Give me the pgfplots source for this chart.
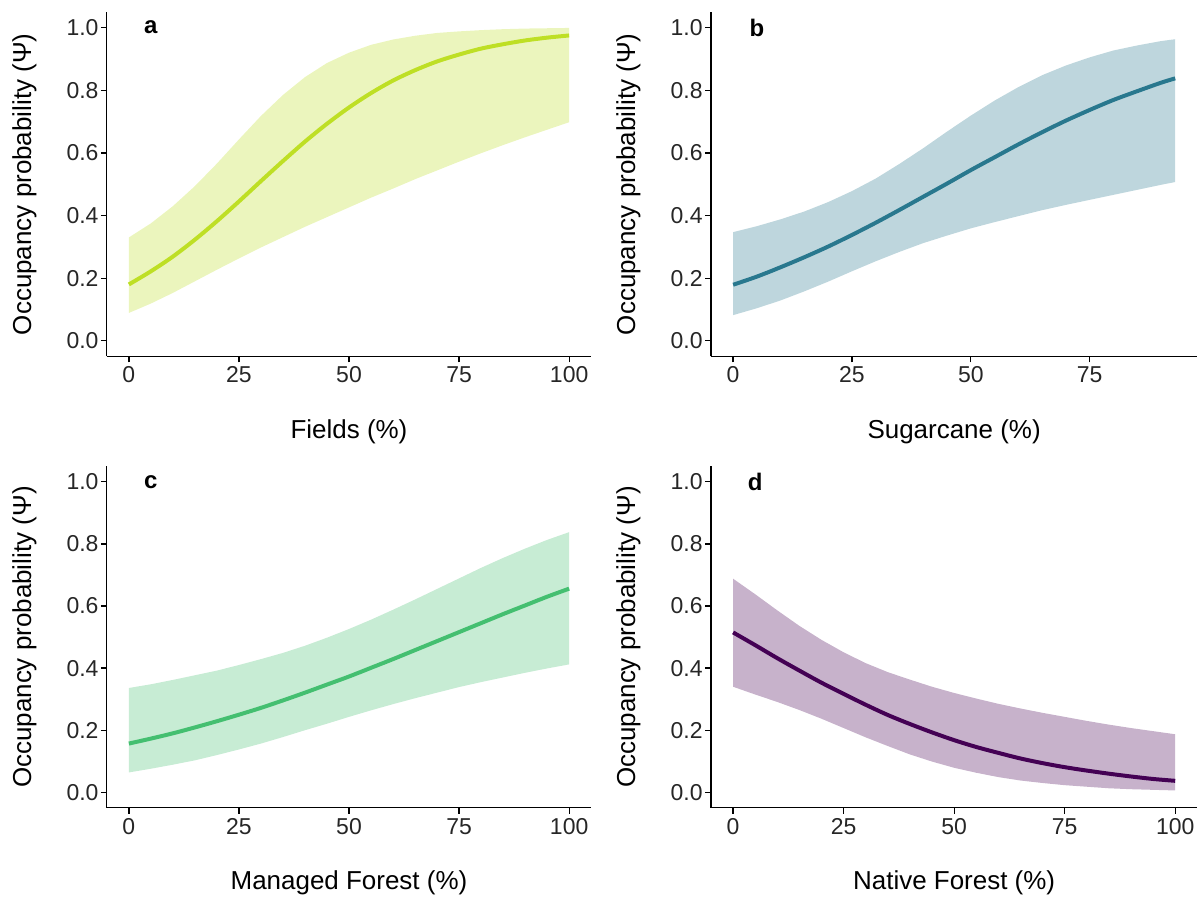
\documentclass[border=0pt]{standalone}
\usepackage{fontspec}
\setmainfont{Liberation Sans}
\usepackage{pgfplots}
\pgfplotsset{compat=1.18}
\usepackage{pgfplotstable}
\usepgfplotslibrary{fillbetween}

\definecolor{colA}{RGB}{190,223,37}
\definecolor{colB}{RGB}{41,120,142}
\definecolor{colC}{RGB}{68,191,112}
\definecolor{colD}{RGB}{68,1,84}
\definecolor{tickgray}{HTML}{262626}

% x, lower, mean, upper
\pgfplotstableread{
x lo mean hi
0 0.089 0.180 0.330
5 0.119 0.222 0.375
10 0.153 0.269 0.430
15 0.190 0.323 0.494
20 0.227 0.382 0.566
25 0.263 0.445 0.643
30 0.298 0.510 0.718
35 0.331 0.574 0.785
40 0.364 0.636 0.842
45 0.395 0.693 0.887
50 0.426 0.745 0.920
55 0.457 0.791 0.945
60 0.486 0.831 0.962
65 0.516 0.864 0.974
70 0.544 0.892 0.983
75 0.572 0.914 0.988
80 0.599 0.933 0.992
85 0.625 0.947 0.995
90 0.650 0.959 0.997
95 0.674 0.968 0.998
100 0.698 0.975 0.999
}\tA

\pgfplotstableread{
x lo mean hi
0 0.082 0.179 0.347
5 0.104 0.205 0.366
10 0.129 0.235 0.388
15 0.158 0.267 0.413
20 0.189 0.301 0.443
25 0.222 0.338 0.478
30 0.254 0.377 0.518
35 0.284 0.418 0.565
40 0.312 0.460 0.615
45 0.336 0.502 0.668
50 0.359 0.545 0.719
55 0.379 0.586 0.767
60 0.398 0.627 0.810
65 0.417 0.666 0.848
70 0.434 0.703 0.879
75 0.450 0.737 0.905
80 0.466 0.769 0.927
85 0.482 0.797 0.943
90 0.498 0.824 0.957
93 0.507 0.838 0.963
}\tB

\pgfplotstableread{
x lo mean hi
0 0.064 0.157 0.336
5 0.076 0.173 0.348
10 0.089 0.190 0.362
15 0.103 0.209 0.377
20 0.120 0.229 0.392
25 0.138 0.250 0.410
30 0.157 0.272 0.429
35 0.178 0.296 0.449
40 0.200 0.321 0.472
45 0.221 0.347 0.498
50 0.243 0.373 0.526
55 0.264 0.401 0.556
60 0.284 0.429 0.588
65 0.303 0.458 0.621
70 0.321 0.487 0.655
75 0.339 0.516 0.689
80 0.355 0.545 0.723
85 0.370 0.574 0.755
90 0.385 0.602 0.785
95 0.399 0.630 0.813
100 0.412 0.656 0.838
}\tC

\pgfplotstableread{
x lo mean hi
0 0.340 0.515 0.688
5 0.315 0.474 0.638
10 0.291 0.432 0.586
15 0.265 0.392 0.536
20 0.237 0.353 0.491
25 0.207 0.317 0.451
30 0.177 0.282 0.416
35 0.149 0.249 0.387
40 0.122 0.220 0.363
45 0.099 0.193 0.340
50 0.079 0.168 0.320
55 0.063 0.146 0.302
60 0.049 0.127 0.285
65 0.038 0.109 0.270
70 0.030 0.094 0.256
75 0.023 0.081 0.243
80 0.018 0.070 0.230
85 0.013 0.060 0.218
90 0.010 0.051 0.207
95 0.008 0.043 0.197
100 0.006 0.037 0.187
}\tD

\tikzset{letter/.style={font=\fontsize{12}{14}\selectfont\bfseries}}

\pgfplotsset{
  panel/.style={
    scale only axis,
    anchor=south west,
    ymin=-0.05, ymax=1.05,
    axis x line*=bottom, axis y line*=left,
    axis line style={line width=0.65pt, -},
    tick align=outside,
    major tick length=3pt,
    every tick/.style={black, line width=0.65pt},
    ytick={0,0.2,0.4,0.6,0.8,1},
    /pgf/number format/assume math mode=true,
    tick label style={font=\fontsize{11.5}{13}\selectfont, color=tickgray},
    yticklabel style={/pgf/number format/.cd, fixed, fixed zerofill, precision=1, /tikz/.cd, inner xsep=1pt},
    xticklabel style={inner ysep=2pt},
    ylabel={Occupancy probability (Ψ)},
    every axis y label/.style={at={(axis description cs:-0.170,0.5)}, rotate=90, anchor=center,
      font=\fontsize{13}{15}\selectfont},
    every axis x label/.style={at={(axis description cs:0.5,-0.238)}, anchor=base,
      font=\fontsize{13}{15}\selectfont},
  },
  band/.style={draw=none, fill opacity=0.3},
  mean/.style={line width=2pt, smooth},
}

\begin{document}
\begin{tikzpicture}
  % a
  \begin{axis}[panel, at={(53.5pt,270pt)}, width=242.5pt, height=172.5pt,
      xmin=-5, xmax=105, xtick={0,25,50,75,100}, xlabel={Fields (\%)}]
    \addplot[draw=none, name path=U] table[x=x, y=hi] {\tA};
    \addplot[draw=none, name path=L] table[x=x, y=lo] {\tA};
    \addplot[band, fill=colA] fill between[of=U and L];
    \addplot[mean, colA] table[x=x, y=mean] {\tA};
    \node[letter] at (axis cs:5,1.0) {a};
  \end{axis}

  % b
  \begin{axis}[panel, at={(356pt,270pt)}, width=243.5pt, height=172.5pt,
      xmin=-4.65, xmax=97.65, xtick={0,25,50,75}, xlabel={Sugarcane (\%)}]
    \addplot[draw=none, name path=U] table[x=x, y=hi] {\tB};
    \addplot[draw=none, name path=L] table[x=x, y=lo] {\tB};
    \addplot[band, fill=colB] fill between[of=U and L];
    \addplot[mean, colB] table[x=x, y=mean] {\tB};
    \node[letter] at (axis cs:5,1.0) {b};
  \end{axis}

  % c
  \begin{axis}[panel, at={(53.5pt,44pt)}, width=242.5pt, height=171pt,
      xmin=-5, xmax=105, xtick={0,25,50,75,100}, xlabel={Managed Forest (\%)}]
    \addplot[draw=none, name path=U] table[x=x, y=hi] {\tC};
    \addplot[draw=none, name path=L] table[x=x, y=lo] {\tC};
    \addplot[band, fill=colC] fill between[of=U and L];
    \addplot[mean, colC] table[x=x, y=mean] {\tC};
    \node[letter] at (axis cs:5,1.0) {c};
  \end{axis}

  % d
  \begin{axis}[panel, at={(356pt,44pt)}, width=243.5pt, height=171pt,
      xmin=-5, xmax=105, xtick={0,25,50,75,100}, xlabel={Native Forest (\%)}]
    \addplot[draw=none, name path=U] table[x=x, y=hi] {\tD};
    \addplot[draw=none, name path=L] table[x=x, y=lo] {\tD};
    \addplot[band, fill=colD] fill between[of=U and L];
    \addplot[mean, colD] table[x=x, y=mean] {\tD};
    \node[letter] at (axis cs:5,1.0) {d};
  \end{axis}

  \path (0,0) rectangle (600.5pt,448.5pt);
\end{tikzpicture}
\end{document}
